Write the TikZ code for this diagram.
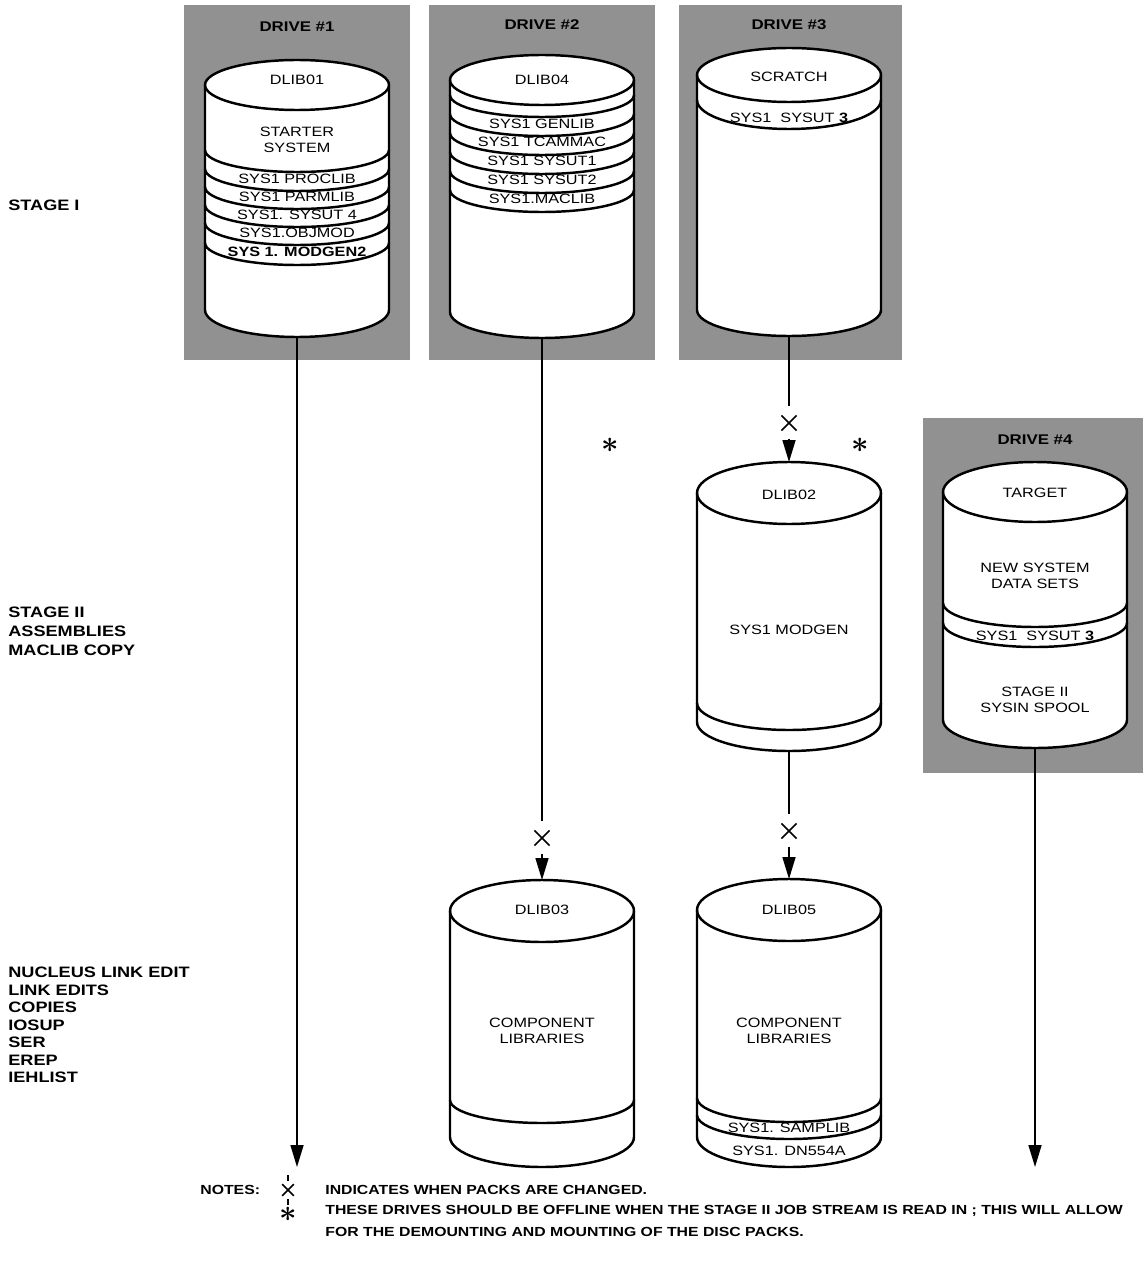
\documentclass[tikz,border=0pt]{standalone}
\usepackage{fontspec}
\setmainfont{Liberation Sans}
\newfontfamily\packfont[FakeStretch=1.2]{Liberation Sans}
\usetikzlibrary{arrows.meta,shapes.misc}
\definecolor{drivegray}{gray}{0.57}

% disk pack: centre x, top y, bottom y, top radius, bottom radius
\newcommand{\pack}[5]{%
  \filldraw[packline,fill=white] (#1-92,#2) -- (#1-92,#3)
    arc[start angle=180,end angle=360,x radius=92,y radius=#5]
    -- (#1+92,#2) arc[start angle=0,end angle=180,x radius=92,y radius=#4] -- cycle;
  \draw[packline] (#1-92,#2) arc[start angle=180,end angle=360,x radius=92,y radius=#4];}
\newcommand{\band}[3]{%
  \draw[packline] (#1-92,#2) arc[start angle=180,end angle=360,x radius=92,y radius=#3];}

\begin{document}
\begin{tikzpicture}[x=0.02cm, y=0.02cm,
    >={Triangle[length=0.44cm,width=0.26cm]},
    packline/.style={line width=1.4pt},
    conn/.style={line width=0.9pt},
    lbl/.style={font=\packfont\fontsize{7.7}{9.2}\selectfont, inner sep=0, align=center},
    head/.style={font=\packfont\bfseries\fontsize{8}{9}\selectfont, inner sep=0},
    stage/.style={font=\packfont\bfseries\fontsize{8.6}{10.8}\selectfont, inner sep=0, anchor=west, align=left},
    note/.style={font=\packfont\bfseries\fontsize{7.5}{8}\selectfont, inner sep=0, anchor=west},
    chg/.style={cross out, draw, line width=0.9pt, minimum size=0.27cm, inner sep=0},
    star/.style={inner sep=0, font=\boldmath\fontsize{18}{18}\selectfont}]
  \useasboundingbox (0,0) rectangle (1143,-1267);

  % drives
  \fill[drivegray] (184,-5) rectangle (410,-360);
  \fill[drivegray] (429,-5) rectangle (655,-360);
  \fill[drivegray] (679,-5) rectangle (902,-360);
  \fill[drivegray] (923,-418) rectangle (1143,-773);
  \node[head] (drv1) at (297,-27) {DRIVE \#1};
  \node[head] (drv2) at (542,-25) {DRIVE \#2};
  \node[head] (drv3) at (789,-25) {DRIVE \#3};
  \node[head] (drv4) at (1035,-440) {DRIVE \#4};

  % stage I packs
  \pack{297}{-85}{-310}{25}{27}
  \foreach \y in {-150,-169,-187,-205,-223,-243} {\band{297}{\y}{22}}
  \node[lbl] (dlib01) at (297,-80) {DLIB01};
  \node[lbl] (starter) at (297,-140) {STARTER\\SYSTEM};
  \node[lbl] (proclib) at (297,-179) {SYS1 PROCLIB};
  \node[lbl] (parmlib) at (297,-197) {SYS1 PARMLIB};
  \node[lbl] (sysut4) at (297,-215) {SYS1. SYSUT 4};
  \node[lbl] (objmod) at (297,-233) {SYS1.OBJMOD};
  \node[lbl, font=\packfont\bfseries\fontsize{7.7}{9}\selectfont] (modgen2) at (297,-252) {SYS 1. MODGEN2};

  \pack{542}{-80}{-312}{25}{26}
  \foreach \y in {-95,-114,-133,-152,-171,-190} {\band{542}{\y}{22}}
  \node[lbl] (dlib04) at (542,-80) {DLIB04};
  \node[lbl] (genlib) at (542,-124) {SYS1 GENLIB};
  \node[lbl] (tcammac) at (542,-142) {SYS1 TCAMMAC};
  \node[lbl] (sysut1) at (542,-161) {SYS1 SYSUT1};
  \node[lbl] (sysut2) at (542,-180) {SYS1 SYSUT2};
  \node[lbl] (maclib) at (542,-199) {SYS1.MACLIB};

  \pack{789}{-75}{-310}{27}{26}
  \band{789}{-100}{29}
  \node[lbl] (scratch) at (789,-77) {SCRATCH};
  \node[lbl] (sysut3a) at (789,-118) {SYS1\ \ SYSUT \textbf{3}};

  % stage II packs
  \pack{789}{-493}{-722}{31}{29}
  \band{789}{-703}{27}
  \node[lbl] (dlib02) at (789,-495) {DLIB02};
  \node[lbl] (modgen) at (789,-630) {SYS1 MODGEN};

  \pack{1035}{-492}{-720}{30}{28}
  \band{1035}{-603}{24}
  \band{1035}{-623}{24}
  \node[lbl] (target) at (1035,-493) {TARGET};
  \node[lbl] (newsys) at (1035,-576) {NEW SYSTEM\\DATA SETS};
  \node[lbl] (sysut3b) at (1035,-636) {SYS1\ \ SYSUT \textbf{3}};
  \node[lbl] (spool) at (1035,-700) {STAGE II\\SYSIN SPOOL};

  % link edit packs
  \pack{542}{-911}{-1137}{31}{30}
  \band{542}{-1100}{23}
  \node[lbl] (dlib03) at (542,-910) {DLIB03};
  \node[lbl] (comp3) at (542,-1031) {COMPONENT\\LIBRARIES};

  \pack{789}{-910}{-1137}{31}{30}
  \band{789}{-1098}{24}
  \band{789}{-1115}{24}
  \node[lbl] (dlib05) at (789,-910) {DLIB05};
  \node[lbl] (comp5) at (789,-1031) {COMPONENT\\LIBRARIES};
  \node[lbl] (samplib) at (789,-1128) {SYS1. SAMPLIB};
  \node[lbl] (dn554a) at (789,-1151) {SYS1. DN554A};

  % connectors
  \coordinate (d1bot) at (297,-337);
  \coordinate (d1end) at (297,-1167);
  \coordinate (d2bot) at (542,-338);
  \coordinate (d3bot) at (789,-336);
  \coordinate (d02top) at (789,-462);
  \coordinate (d02bot) at (789,-751);
  \coordinate (d03top) at (542,-880);
  \coordinate (d05top) at (789,-879);
  \coordinate (d4bot) at (1035,-748);
  \coordinate (d4end) at (1035,-1167);
  \node[chg] (chg2) at (542,-838) {};
  \node[chg] (chg3) at (789,-423) {};
  \node[chg] (chg5) at (789,-831) {};
  \draw[conn,->] (d1bot) -- (d1end);
  \draw[conn,shorten >=0.18cm] (d2bot) -- (chg2);
  \draw[conn,->,shorten <=0.16cm] (chg2) -- (d03top);
  \draw[conn,shorten >=0.18cm] (d3bot) -- (chg3);
  \draw[conn,->,shorten <=0.16cm] (chg3) -- (d02top);
  \draw[conn,shorten >=0.18cm] (d02bot) -- (chg5);
  \draw[conn,->,shorten <=0.16cm] (chg5) -- (d05top);
  \draw[conn,->] (d4bot) -- (d4end);
  \node[star] (off1) at (610,-445) {$\ast$};
  \node[star] (off2) at (860,-445) {$\ast$};

  % stages
  \node[stage] (st1) at (8,-205) {STAGE I};
  \node[stage] (st2) at (8,-631) {STAGE II\\ASSEMBLIES\\MACLIB COPY};
  \node[stage, font=\packfont\bfseries\fontsize{8.6}{10}\selectfont] (st3) at (8,-1025)
    {NUCLEUS LINK EDIT\\LINK EDITS\\COPIES\\IOSUP\\SER\\EREP\\IEHLIST};

  % notes
  \node[note] (notes) at (200,-1190) {NOTES:};
  \node[chg, minimum size=0.2cm] (nchg) at (288,-1190) {};
  \draw[conn] (nchg.north) ++(0,3) -- ++(0,6);
  \draw[conn] (nchg.south) ++(0,-3) -- ++(0,-6);
  \node[note] (note1) at (325,-1190) {INDICATES WHEN PACKS ARE CHANGED.};
  \node[star] (nstar) at (288,-1214) {$\ast$};
  \node[note] (note2) at (325,-1211) {THESE DRIVES SHOULD BE OFFLINE WHEN THE STAGE II JOB STREAM IS READ IN ; THIS WILL ALLOW};
  \node[note] (note3) at (325,-1232) {FOR THE DEMOUNTING AND MOUNTING OF THE DISC PACKS.};
\end{tikzpicture}
\end{document}
